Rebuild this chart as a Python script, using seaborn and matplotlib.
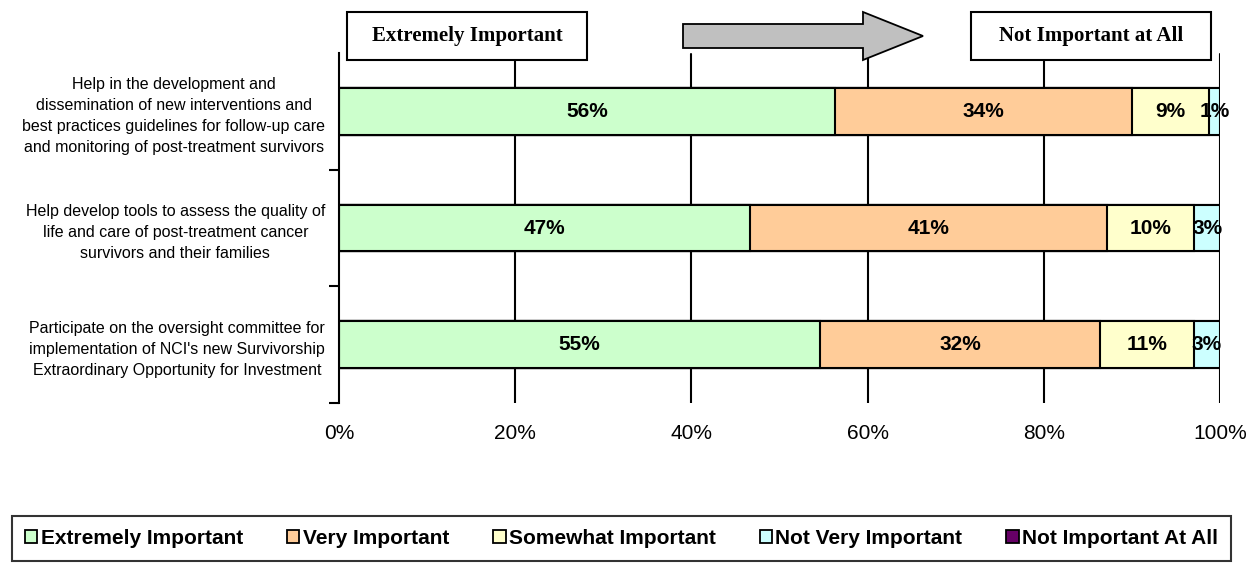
import matplotlib
matplotlib.use("Agg")
import matplotlib.pyplot as plt
import seaborn as sns
import pandas as pd
import numpy as np
from matplotlib.patches import Rectangle, Polygon, Patch

sns.set_theme(style="white")
plt.rcParams['font.family'] = ['Liberation Sans', 'DejaVu Sans']
plt.rcParams['text.color'] = 'black'
plt.rcParams['xtick.color'] = 'black'
plt.rcParams['ytick.color'] = 'black'
plt.rcParams['xtick.labelcolor'] = 'black'
plt.rcParams['ytick.labelcolor'] = 'black'

categories = [
    "Help in the development and\ndissemination of new interventions and\nbest practices guidelines for follow-up care\nand monitoring of post-treatment survivors",
    "Help develop tools to assess the quality of\nlife and care of post-treatment cancer\nsurvivors and their families",
    "Participate on the oversight committee for\nimplementation of NCI's new Survivorship\nExtraordinary Opportunity for Investment",
]
series = ["Extremely Important", "Very Important", "Somewhat Important",
          "Not Very Important", "Not Important At All"]
extremely = [56.3, 46.6, 54.6]
very = [33.7, 40.6, 31.8]
somewhat = [8.7, 9.9, 10.6]
not_very = [1.3, 2.9, 3.0]
not_at_all = [0.0, 0.0, 0.0]
colors = ["#CCFFCC", "#FFCC99", "#FFFFCC", "#CCFFFF", "#660066"]
xticks = [0, 20, 40, 60, 80, 100]

values = [extremely, very, somewhat, not_very, not_at_all]
cum = np.cumsum(np.array(values), axis=0)

W, H = 1254, 563
def fx(x): return x / W
def fy(y): return 1 - y / H

top_px, bot_px = 53, 403
fig = plt.figure(figsize=(12.54, 5.63), dpi=100)
ax = fig.add_axes([fx(339), fy(bot_px), (1220 - 339) / W, (bot_px - top_px) / H])

# draw cumulative layers from the total down
for i in range(len(series) - 1, -1, -1):
    df = pd.DataFrame({"cat": categories, "val": cum[i]})
    sns.barplot(data=df, y="cat", x="val", orient="h", color=colors[i],
                saturation=1, width=0.4, edgecolor="black", linewidth=1.5,
                ax=ax, zorder=2)

# segment labels
for r in range(len(categories)):
    left = 0
    for i in range(len(series)):
        v = values[i][r]
        if v > 0:
            ax.text(left + v / 2, r, f"{round(v)}%", ha="center", va="center",
                    fontsize=15, fontweight="bold", color="black", zorder=5)
        left += v

ax.set_xlim(0, 100)
ax.set_ylim(2.5, -0.5)
ax.set_xticks(xticks)
ax.set_xticklabels([f"{t}%" for t in xticks], fontsize=15, color="black")
ax.tick_params(axis="x", length=0, pad=15)
ax.set_yticks(range(len(categories)))
ax.set_yticklabels(categories, fontsize=11.5, multialignment="center",
                   linespacing=1.5, color="black")
ax.tick_params(axis="y", which="major", length=0, pad=10)
ax.set_yticks([0.5, 1.5, 2.5], minor=True)
ax.tick_params(axis="y", which="minor", length=7, width=1.5, color="black",
               direction="out", left=True)
ax.set_xlabel("")
ax.set_ylabel("")

for t in xticks[1:]:
    ax.axvline(t, ymin=0, ymax=(bot_px - 54) / (bot_px - top_px), color="black",
               lw=1.5, zorder=0)
ax.set_axisbelow(True)

for s in ["top", "right", "bottom"]:
    ax.spines[s].set_visible(False)
ax.spines["left"].set_color("black")
ax.spines["left"].set_linewidth(1.5)

# header boxes
fig.patches.append(Rectangle((fx(347), fy(60)), fx(587) - fx(347), fy(12) - fy(60),
                             transform=fig.transFigure, facecolor="white",
                             edgecolor="black", lw=1.5, zorder=10))
fig.text(fx(467), fy(36), "Extremely Important", ha="center", va="center",
         fontsize=15, fontweight="bold", family="Liberation Serif", zorder=11)
fig.patches.append(Rectangle((fx(971), fy(60)), fx(1211) - fx(971), fy(12) - fy(60),
                             transform=fig.transFigure, facecolor="white",
                             edgecolor="black", lw=1.5, zorder=10))
fig.text(fx(1091), fy(36), "Not Important at All", ha="center", va="center",
         fontsize=15, fontweight="bold", family="Liberation Serif", zorder=11)

arrow_pts = [(683, 24), (863, 24), (863, 12), (923, 36), (863, 60), (863, 48), (683, 48)]
fig.patches.append(Polygon([(fx(x), fy(y)) for x, y in arrow_pts], closed=True,
                           transform=fig.transFigure, facecolor="#C0C0C0",
                           edgecolor="black", lw=1.3, zorder=10))

handles = [Patch(facecolor=c, edgecolor="black", lw=1.3) for c in colors]
leg = fig.legend(handles, series, loc="lower left", ncol=5,
                 bbox_to_anchor=(fx(12), fy(561), fx(1231) - fx(12), (561 - 518) / H),
                 mode="expand", frameon=True, fancybox=False, edgecolor="black",
                 prop={"weight": "bold", "size": 15}, handlelength=0.6,
                 handleheight=0.6, handletextpad=0.15, borderaxespad=0,
                 borderpad=0.62)
for txt in leg.get_texts():
    txt.set_color("black")
leg.get_frame().set_linewidth(1.5)

fig.savefig("out.png", dpi=100, facecolor="white")
